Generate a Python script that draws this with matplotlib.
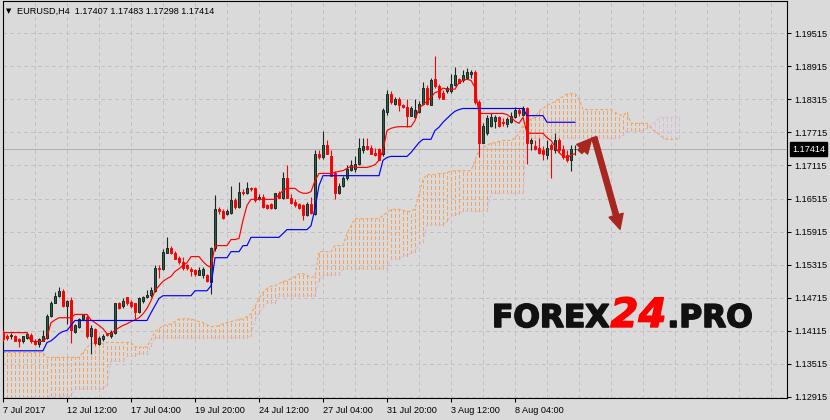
import numpy as np
import matplotlib
matplotlib.use("Agg")
import matplotlib.pyplot as plt
import matplotlib.patheffects as pe
from matplotlib.patches import FancyArrowPatch

# ---------------- data (EURUSD, H4) ----------------
opens = [1.1408, 1.1402, 1.1401, 1.1402, 1.1397, 1.1393, 1.1399, 1.1404, 1.1393, 1.1388,
         1.1393, 1.1399, 1.1439, 1.1462, 1.1475, 1.1484, 1.1457, 1.1468, 1.1410, 1.1419,
         1.1433, 1.1437, 1.1401, 1.1415, 1.1388, 1.1397, 1.1406, 1.1401, 1.1408, 1.1461,
         1.1457, 1.1472, 1.1464, 1.1461, 1.1446, 1.1466, 1.1472, 1.1477, 1.1484, 1.1526,
         1.1524, 1.1553, 1.1562, 1.1553, 1.1544, 1.1537, 1.1530, 1.1524, 1.1522, 1.1513,
         1.1512, 1.1512, 1.1499, 1.1561, 1.1633, 1.1628, 1.1624, 1.1626, 1.1648, 1.1637,
         1.1664, 1.1661, 1.1670, 1.1670, 1.1650, 1.1655, 1.1639, 1.1641, 1.1635, 1.1661,
         1.1652, 1.1688, 1.1653, 1.1646, 1.1641, 1.1639, 1.1621, 1.1642, 1.1624, 1.1733,
         1.1726, 1.1748, 1.1728, 1.1697, 1.1661, 1.1675, 1.1688, 1.1704, 1.1706, 1.1715,
         1.1739, 1.1746, 1.1744, 1.1735, 1.1741, 1.1732, 1.1808, 1.1842, 1.1824, 1.1832,
         1.1821, 1.1817, 1.1802, 1.1799, 1.1808, 1.1824, 1.1853, 1.1822, 1.1868, 1.1855,
         1.1844, 1.1846, 1.1846, 1.1857, 1.1868, 1.1866, 1.1870, 1.1877, 1.1881, 1.1826,
         1.1753, 1.1770, 1.1784, 1.1793, 1.1799, 1.1790, 1.1786, 1.1790, 1.1799, 1.1812,
         1.1804, 1.1815, 1.1752, 1.1746, 1.1744, 1.1739, 1.1730, 1.1748, 1.1739, 1.1757,
         1.1741, 1.1730, 1.1721, 1.17407]
highs = [1.1412, 1.1406, 1.1408, 1.1404, 1.1399, 1.1402, 1.1410, 1.1408, 1.1397, 1.1399,
         1.1413, 1.1442, 1.1466, 1.1481, 1.1490, 1.1488, 1.1468, 1.1472, 1.1424, 1.1435,
         1.1442, 1.1442, 1.1421, 1.1417, 1.1402, 1.1406, 1.1408, 1.1413, 1.1462, 1.1464,
         1.1470, 1.1473, 1.1468, 1.1462, 1.1472, 1.1475, 1.1486, 1.1490, 1.1530, 1.1530,
         1.1559, 1.1582, 1.1566, 1.1557, 1.1548, 1.1546, 1.1533, 1.1528, 1.1524, 1.1528,
         1.1528, 1.1515, 1.1564, 1.1657, 1.1637, 1.1632, 1.1632, 1.1675, 1.1652, 1.1681,
         1.1668, 1.1681, 1.1673, 1.1673, 1.1659, 1.1659, 1.1642, 1.1644, 1.1662, 1.1666,
         1.1699, 1.1712, 1.1659, 1.1650, 1.1644, 1.1642, 1.1646, 1.1655, 1.1739, 1.1739,
         1.1775, 1.1757, 1.1739, 1.1702, 1.1679, 1.1692, 1.1713, 1.1721, 1.1728, 1.1762,
         1.1761, 1.1762, 1.1748, 1.1744, 1.1744, 1.1815, 1.1848, 1.1846, 1.1835, 1.1835,
         1.1824, 1.1833, 1.1819, 1.1832, 1.1828, 1.1864, 1.1857, 1.1871, 1.1910, 1.1859,
         1.1848, 1.1855, 1.1877, 1.1891, 1.1871, 1.1884, 1.1888, 1.1884, 1.1884, 1.1830,
         1.1788, 1.1804, 1.1806, 1.1804, 1.1802, 1.1797, 1.1799, 1.1808, 1.1817, 1.1815,
         1.1819, 1.1817, 1.1762, 1.1757, 1.1761, 1.1746, 1.1757, 1.1753, 1.1770, 1.1761,
         1.1748, 1.1739, 1.1748, 1.17483]
lows = [1.1392, 1.1395, 1.1397, 1.1392, 1.1381, 1.1390, 1.1397, 1.1390, 1.1386, 1.1382,
        1.1392, 1.1397, 1.1437, 1.1461, 1.1473, 1.1455, 1.1424, 1.1390, 1.1408, 1.1417,
        1.1430, 1.1399, 1.1370, 1.1386, 1.1386, 1.1393, 1.1401, 1.1399, 1.1406, 1.1450,
        1.1453, 1.1459, 1.1453, 1.1433, 1.1444, 1.1462, 1.1470, 1.1473, 1.1481, 1.1508,
        1.1521, 1.1552, 1.1550, 1.1541, 1.1533, 1.1521, 1.1521, 1.1510, 1.1510, 1.1512,
        1.1508, 1.1499, 1.1479, 1.1557, 1.1624, 1.1615, 1.1621, 1.1624, 1.1633, 1.1635,
        1.1657, 1.1659, 1.1666, 1.1646, 1.1648, 1.1635, 1.1633, 1.1633, 1.1633, 1.1652,
        1.1650, 1.1652, 1.1642, 1.1637, 1.1633, 1.1612, 1.1619, 1.1624, 1.1622, 1.1724,
        1.1724, 1.1732, 1.1692, 1.1650, 1.1659, 1.1672, 1.1686, 1.1701, 1.1699, 1.1712,
        1.1735, 1.1739, 1.1732, 1.1728, 1.1721, 1.1728, 1.1804, 1.1824, 1.1822, 1.1810,
        1.1815, 1.1782, 1.1801, 1.1797, 1.1806, 1.1822, 1.1822, 1.1821, 1.1852, 1.1833,
        1.1832, 1.1844, 1.1844, 1.1855, 1.1861, 1.1864, 1.1868, 1.1871, 1.1824, 1.1726,
        1.1752, 1.1766, 1.1782, 1.1779, 1.1782, 1.1784, 1.1782, 1.1788, 1.1797, 1.1802,
        1.1802, 1.1715, 1.1739, 1.1739, 1.1733, 1.1721, 1.1724, 1.1688, 1.1735, 1.1735,
        1.1724, 1.1717, 1.1702, 1.17298]
closes = [1.1397, 1.1399, 1.1404, 1.1393, 1.1392, 1.1401, 1.1406, 1.1392, 1.1388, 1.1397,
          1.1402, 1.1439, 1.1462, 1.1475, 1.1484, 1.1457, 1.1466, 1.1412, 1.1421, 1.1433,
          1.1441, 1.1401, 1.1417, 1.1390, 1.1399, 1.1402, 1.1404, 1.1410, 1.1461, 1.1452,
          1.1466, 1.1461, 1.1457, 1.1446, 1.1470, 1.1472, 1.1477, 1.1486, 1.1526, 1.1524,
          1.1555, 1.1562, 1.1552, 1.1542, 1.1537, 1.1526, 1.1526, 1.1519, 1.1515, 1.1522,
          1.1524, 1.1502, 1.1561, 1.1633, 1.1628, 1.1617, 1.1628, 1.1648, 1.1637, 1.1664,
          1.1661, 1.1670, 1.1668, 1.1648, 1.1655, 1.1637, 1.1635, 1.1635, 1.1661, 1.1653,
          1.1688, 1.1653, 1.1644, 1.1639, 1.1635, 1.1621, 1.1642, 1.1626, 1.1733, 1.1726,
          1.1748, 1.1733, 1.1693, 1.1662, 1.1675, 1.1688, 1.1706, 1.1713, 1.1715, 1.1744,
          1.1746, 1.1741, 1.1733, 1.1730, 1.1722, 1.1812, 1.1842, 1.1826, 1.1832, 1.1821,
          1.1817, 1.1801, 1.1815, 1.1812, 1.1824, 1.1853, 1.1824, 1.1866, 1.1855, 1.1835,
          1.1833, 1.1853, 1.1859, 1.1875, 1.1862, 1.1875, 1.1881, 1.1881, 1.1826, 1.1753,
          1.1784, 1.1797, 1.1799, 1.1799, 1.1784, 1.1788, 1.1795, 1.1802, 1.1812, 1.1806,
          1.1815, 1.1753, 1.1757, 1.1741, 1.1735, 1.1732, 1.1744, 1.1742, 1.1757, 1.1739,
          1.1726, 1.1721, 1.1741, 1.17414]

tenkan = [1.1408, 1.1408, 1.1408, 1.1408, 1.1408, 1.1408, 1.1408, 1.1392, 1.1392, 1.1392,
          1.1392, 1.1399, 1.1426, 1.1431, 1.1435, 1.1435, 1.1435, 1.1435, 1.1441, 1.1441,
          1.1441, 1.1441, 1.1431, 1.1426, 1.1421, 1.1415, 1.1406, 1.1406, 1.1412, 1.1417,
          1.1421, 1.1424, 1.1428, 1.1431, 1.1435, 1.1442, 1.1452, 1.1466, 1.1484, 1.1493,
          1.1501, 1.1506, 1.1510, 1.1519, 1.1524, 1.1530, 1.1535, 1.1546, 1.1546, 1.1546,
          1.1537, 1.1530, 1.1526, 1.1566, 1.1566, 1.1566, 1.1566, 1.1577, 1.1577, 1.1579,
          1.1612, 1.1639, 1.1650, 1.1650, 1.1650, 1.1650, 1.1650, 1.1650, 1.1650, 1.1659,
          1.1666, 1.1670, 1.1670, 1.1670, 1.1664, 1.1661, 1.1661, 1.1664, 1.1684, 1.1697,
          1.1697, 1.1697, 1.1697, 1.1699, 1.1701, 1.1702, 1.1706, 1.1710, 1.1708, 1.1708,
          1.1708, 1.1708, 1.1710, 1.1713, 1.1721, 1.1739, 1.1775, 1.1779, 1.1781, 1.1782,
          1.1782, 1.1782, 1.1782, 1.1793, 1.1815, 1.1822, 1.1828, 1.1835, 1.1844, 1.1846,
          1.1852, 1.1850, 1.1850, 1.1850, 1.1862, 1.1866, 1.1868, 1.1866, 1.1853, 1.1806,
          1.1806, 1.1806, 1.1806, 1.1806, 1.1806, 1.1806, 1.1804, 1.1799, 1.1792, 1.1788,
          1.1799, 1.1770, 1.1770, 1.1770, 1.1770, 1.1770, 1.1762, 1.1757, 1.1746, 1.1735,
          1.1728, 1.1726, 1.1730, 1.1733]
kijun = [1.1375, 1.1375, 1.1375, 1.1375, 1.1375, 1.1375, 1.1375, 1.1375, 1.1375, 1.1375,
         1.1375, 1.1390, 1.1393, 1.1399, 1.1406, 1.1410, 1.1412, 1.1421, 1.1430, 1.1430,
         1.1430, 1.1430, 1.1430, 1.1430, 1.1430, 1.1430, 1.1430, 1.1430, 1.1430, 1.1430,
         1.1430, 1.1430, 1.1430, 1.1430, 1.1430, 1.1430, 1.1430, 1.1444, 1.1457, 1.1470,
         1.1475, 1.1475, 1.1475, 1.1475, 1.1475, 1.1475, 1.1475, 1.1475, 1.1484, 1.1484,
         1.1484, 1.1484, 1.1493, 1.1544, 1.1544, 1.1544, 1.1544, 1.1555, 1.1555, 1.1555,
         1.1566, 1.1566, 1.1581, 1.1581, 1.1581, 1.1581, 1.1581, 1.1581, 1.1581, 1.1581,
         1.1588, 1.1595, 1.1595, 1.1595, 1.1595, 1.1595, 1.1595, 1.1602, 1.1633, 1.1675,
         1.1693, 1.1693, 1.1693, 1.1693, 1.1693, 1.1693, 1.1693, 1.1693, 1.1693, 1.1693,
         1.1693, 1.1693, 1.1693, 1.1693, 1.1693, 1.1721, 1.1726, 1.1728, 1.1728, 1.1728,
         1.1728, 1.1728, 1.1735, 1.1744, 1.1753, 1.1759, 1.1759, 1.1759, 1.1775, 1.1781,
         1.1790, 1.1797, 1.1804, 1.1810, 1.1813, 1.1815, 1.1815, 1.1815, 1.1815, 1.1815,
         1.1815, 1.1815, 1.1815, 1.1815, 1.1815, 1.1815, 1.1815, 1.1815, 1.1815, 1.1815,
         1.1815, 1.1802, 1.1802, 1.1802, 1.1802, 1.1802, 1.1790, 1.1790, 1.1790, 1.1790,
         1.1790, 1.1790, 1.1790, 1.1790]
senkou_a = [1.1372, 1.1372, 1.1372, 1.1372, 1.1372, 1.1372, 1.1372, 1.1372, 1.1372, 1.1372,
            1.1372, 1.1363, 1.1363, 1.1363, 1.1363, 1.1363, 1.1363, 1.1363, 1.1363, 1.1363,
            1.1372, 1.1381, 1.1388, 1.1388, 1.1388, 1.1388, 1.1390, 1.1390, 1.1390, 1.1390,
            1.1390, 1.1390, 1.1390, 1.1382, 1.1382, 1.1382, 1.1382, 1.1395, 1.1410, 1.1415,
            1.1421, 1.1422, 1.1424, 1.1428, 1.1433, 1.1433, 1.1433, 1.1433, 1.1430, 1.1428,
            1.1426, 1.1422, 1.1419, 1.1419, 1.1421, 1.1424, 1.1426, 1.1428, 1.1430, 1.1432,
            1.1433, 1.1437, 1.1442, 1.1455, 1.1470, 1.1481, 1.1488, 1.1492, 1.1493, 1.1497,
            1.1501, 1.1502, 1.1506, 1.1510, 1.1515, 1.1515, 1.1512, 1.1508, 1.1510, 1.1555,
            1.1555, 1.1555, 1.1555, 1.1566, 1.1566, 1.1566, 1.1588, 1.1602, 1.1615, 1.1615,
            1.1615, 1.1615, 1.1615, 1.1615, 1.1615, 1.1621, 1.1626, 1.1632, 1.1632, 1.1632,
            1.1630, 1.1628, 1.1628, 1.1633, 1.1659, 1.1686, 1.1695, 1.1695, 1.1695, 1.1697,
            1.1697, 1.1699, 1.1701, 1.1702, 1.1702, 1.1702, 1.1702, 1.1702, 1.1721, 1.1739,
            1.1744, 1.1748, 1.1752, 1.1753, 1.1755, 1.1757, 1.1757, 1.1757, 1.1762, 1.1770,
            1.1784, 1.1792, 1.1795, 1.1799, 1.1810, 1.1815, 1.1821, 1.1824, 1.1828, 1.1832,
            1.1837, 1.1841, 1.1842, 1.1842, 1.1833, 1.1813, 1.1813, 1.1813, 1.1813, 1.1813,
            1.1813, 1.1813, 1.1813, 1.1808, 1.1804, 1.1802, 1.1808, 1.1788, 1.1788, 1.1788,
            1.1788, 1.1788, 1.1779, 1.1773, 1.1768, 1.1762, 1.1759, 1.1759, 1.1759, 1.1761]
senkou_b = [1.1290, 1.1290, 1.1290, 1.1290, 1.1290, 1.1290, 1.1290, 1.1290, 1.1290, 1.1290,
            1.1290, 1.1290, 1.1293, 1.1293, 1.1293, 1.1293, 1.1293, 1.1293, 1.1306, 1.1306,
            1.1306, 1.1306, 1.1306, 1.1306, 1.1306, 1.1306, 1.1312, 1.1357, 1.1357, 1.1357,
            1.1357, 1.1366, 1.1366, 1.1366, 1.1370, 1.1370, 1.1370, 1.1384, 1.1399, 1.1399,
            1.1399, 1.1399, 1.1399, 1.1399, 1.1399, 1.1399, 1.1399, 1.1399, 1.1399, 1.1399,
            1.1399, 1.1399, 1.1399, 1.1399, 1.1399, 1.1399, 1.1399, 1.1399, 1.1399, 1.1399,
            1.1399, 1.1399, 1.1402, 1.1430, 1.1444, 1.1455, 1.1462, 1.1462, 1.1462, 1.1475,
            1.1475, 1.1475, 1.1475, 1.1475, 1.1475, 1.1475, 1.1475, 1.1475, 1.1475, 1.1502,
            1.1513, 1.1513, 1.1513, 1.1513, 1.1513, 1.1524, 1.1524, 1.1524, 1.1524, 1.1524,
            1.1524, 1.1524, 1.1524, 1.1524, 1.1524, 1.1524, 1.1524, 1.1541, 1.1541, 1.1541,
            1.1548, 1.1548, 1.1553, 1.1555, 1.1568, 1.1573, 1.1604, 1.1604, 1.1604, 1.1604,
            1.1604, 1.1610, 1.1619, 1.1622, 1.1624, 1.1628, 1.1628, 1.1628, 1.1628, 1.1628,
            1.1628, 1.1628, 1.1661, 1.1661, 1.1661, 1.1661, 1.1661, 1.1661, 1.1661, 1.1661,
            1.1661, 1.1761, 1.1761, 1.1761, 1.1761, 1.1761, 1.1761, 1.1761, 1.1761, 1.1761,
            1.1761, 1.1761, 1.1761, 1.1761, 1.1761, 1.1761, 1.1761, 1.1761, 1.1761, 1.1761,
            1.1761, 1.1761, 1.1761, 1.1761, 1.1761, 1.1766, 1.1775, 1.1775, 1.1775, 1.1775,
            1.1775, 1.1779, 1.1786, 1.1790, 1.1799, 1.1799, 1.1799, 1.1799, 1.1799, 1.1799]

price_ticks = [1.12915, 1.13515, 1.14115, 1.14715, 1.15315, 1.15915,
               1.16515, 1.17115, 1.17715, 1.18315, 1.18915, 1.19515]
time_labels = ["7 Jul 2017", "12 Jul 12:00", "17 Jul 04:00", "19 Jul 20:00", "24 Jul 12:00",
               "27 Jul 04:00", "31 Jul 20:00", "3 Aug 12:00", "8 Aug 04:00"]
time_label_bars = [0, 16, 32, 48, 64, 80, 96, 112, 128]
symbol = "EURUSD,H4"

# ---------------- style ----------------
plt.rcParams["font.family"] = ["Liberation Sans", "DejaVu Sans"]
plt.rcParams["lines.scale_dashes"] = False
BG = "#DADADA"
GRID = "#C2C2C2"
BULL_FACE = "#2F5D4D"
BULL_EDGE = "#18291F"
BEAR = "#FF0000"
SANDY = "#F4A460"
THISTLE = "#D8BFD8"
FS = 6.6
PX = 0.72  # one pixel in points at 100 dpi

W, H, DPI = 830, 420, 100
fig = plt.figure(figsize=(W / DPI, H / DPI), dpi=DPI)
fig.patch.set_facecolor(BG)
PL, PR, PT, PB = 2.5, 786.5, 0.5, 398.3
ax = fig.add_axes([PL / W, (H - PB) / H, (PR - PL) / W, (PB - PT) / H])
ax.set_facecolor(BG)
ax.set_xlim(-0.125, 195.875)
ax.set_ylim(1.12887, 1.20111)

# grid
minor_bars = [b for b in range(8, 196, 8) if b not in time_label_bars]
ax.set_xticks(time_label_bars)
ax.set_xticks(minor_bars, minor=True)
ax.set_xticklabels(time_labels, ha="left")
ax.set_yticks(price_ticks)
ax.set_yticklabels([f"{v:.5f}" for v in price_ticks])
ax.grid(True, which="both", color=GRID, lw=PX, ls=(0, (2.2, 2.2)), zorder=0,
        antialiased=False)
ax.set_axisbelow(True)
ax.yaxis.tick_right()
ax.tick_params(axis="y", which="major", direction="out", length=3, width=0.75,
               pad=2.5, labelsize=FS, colors="black")
ax.tick_params(axis="x", which="major", direction="out", length=3, width=0.75,
               pad=2.4, labelsize=FS, colors="black")
ax.tick_params(axis="x", which="minor", length=0)
for s in ax.spines.values():
    s.set_color("black")
    s.set_linewidth(0.8)

# current price line
last_close = closes[-1]
ax.axhline(last_close, color="#B0B0B0", lw=PX, zorder=1, antialiased=False)

# Ichimoku cloud
xs = np.arange(len(senkou_a))
a = np.array(senkou_a)
b = np.array(senkou_b)
a_up = a >= b
dash = (0, (2.2, 1.45))
ax.vlines(xs[a_up], b[a_up], a[a_up], colors=SANDY, linestyles=[dash], lw=PX,
          zorder=2, antialiased=False)
ax.vlines(xs[~a_up], a[~a_up], b[~a_up], colors=THISTLE, linestyles=[dash], lw=PX,
          zorder=2, antialiased=False)
ax.plot(xs, a, color=SANDY, lw=0.8, ls=dash, zorder=2.1)
ax.plot(xs, b, color=THISTLE, lw=0.8, ls=dash, zorder=2.1)

# candles
x = np.arange(len(opens))
o = np.array(opens); h = np.array(highs); l = np.array(lows); c = np.array(closes)
up = c >= o
ax.vlines(x[up], l[up], h[up], color=BULL_EDGE, lw=0.8, zorder=4)
ax.vlines(x[~up], l[~up], h[~up], color=BEAR, lw=0.8, zorder=4)
body_bot = np.minimum(o, c)
body_h = np.maximum(np.abs(c - o), 0.00004)
ax.bar(x[up], body_h[up], bottom=body_bot[up], width=0.6, color=BULL_FACE,
       edgecolor=BULL_EDGE, lw=0.7, zorder=5)
ax.bar(x[~up], body_h[~up], bottom=body_bot[~up], width=0.6, color=BEAR,
       edgecolor=BEAR, lw=0.7, zorder=5)

# tenkan / kijun
xt = np.arange(len(tenkan))
ax.plot(xt, tenkan, color="#FF0000", lw=0.85, zorder=6)
ax.plot(xt, kijun, color="#0000FF", lw=0.85, zorder=6)

# current price tag
ax.annotate(f"{last_close:.5f}", xy=(1, last_close), xycoords=("axes fraction", "data"),
            xytext=(4.2, 0), textcoords="offset points", va="center", ha="left",
            color="white", fontsize=FS, annotation_clip=False,
            bbox=dict(boxstyle="square,pad=0.22", fc="black", ec="black"), zorder=10)

# arrows
arr_kw = dict(arrowstyle="simple,head_length=1.05,head_width=1.05,tail_width=0.38",
              mutation_scale=10, color="#A8261F", shrinkA=0, shrinkB=0, zorder=9)
ax.add_patch(FancyArrowPatch((144.25, 1.17365), (147.2, 1.17608), **arr_kw))
ax.add_patch(FancyArrowPatch((147.8, 1.17627), (154.25, 1.15956), **arr_kw))

# header
fig.text(6 / W, 1 - 11 / H, "\u25BC", fontsize=5, va="center", ha="left",
         family=["DejaVu Sans"])
fig.text(17 / W, 1 - 11 / H,
         f"{symbol}  {opens[-1]:.5f} {highs[-1]:.5f} {lows[-1]:.5f} {closes[-1]:.5f}",
         fontsize=FS, va="center", ha="left")

# watermark
renderer = fig.canvas.get_renderer()
base_y = 1 - 327 / H
wm_family = ["DejaVu Sans"]
heavy = [pe.withStroke(linewidth=1.2, foreground="#111111")]
t1 = fig.text(492 / W, base_y, "FOREX", fontsize=22.5, fontweight="bold",
              family=wm_family, color="#111111", va="baseline", ha="left", zorder=10,
              path_effects=heavy)
bb1 = t1.get_window_extent(renderer)
t2 = fig.text((bb1.x1 + 1) / W, base_y, "24", fontsize=29, fontweight="bold",
              style="oblique", family=wm_family, color="#FF0000", va="baseline",
              ha="left", zorder=10,
              path_effects=[pe.withStroke(linewidth=1.0, foreground="#FF0000")])
bb2 = t2.get_window_extent(renderer)
fig.text((bb2.x1 + 1) / W, base_y, ".PRO", fontsize=22.5, fontweight="bold",
         family=wm_family, color="#111111", va="baseline", ha="left", zorder=10,
         path_effects=heavy)

fig.savefig("out.png", dpi=DPI, facecolor=BG)
